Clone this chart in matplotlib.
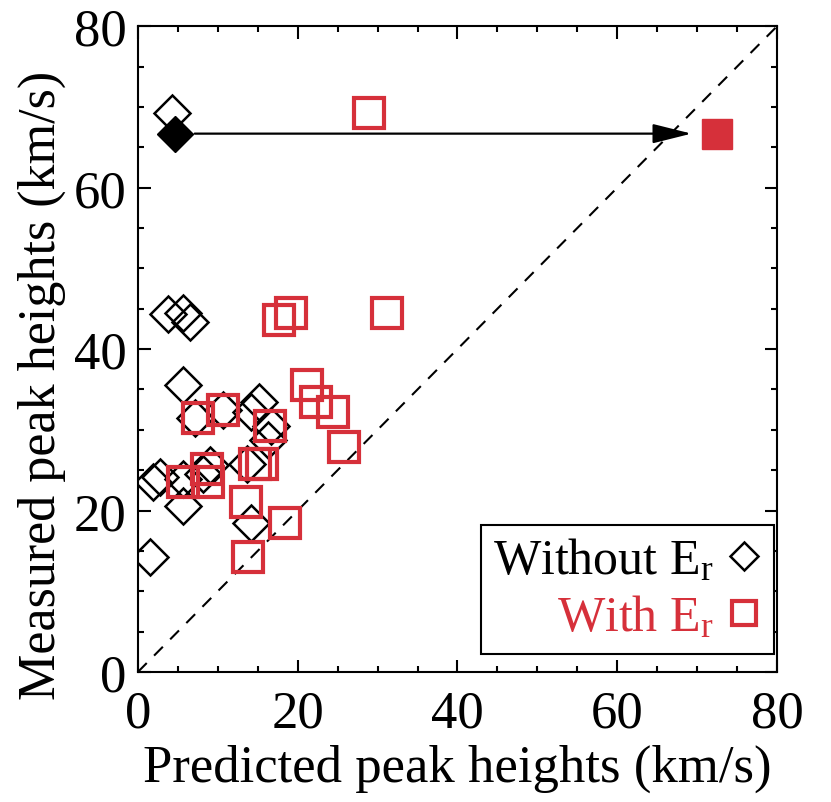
"""
Measured vs predicted peak heights, with and without E_r.
"""

import numpy as np
import matplotlib
matplotlib.use('Agg')
import matplotlib.pyplot as plt

# open diamonds: predictions without E_r
pred_no_er = [4.3, 1.5, 1.9, 2.75, 3.8, 5.7, 6.5, 5.6, 7.1, 10.7,
              15.1, 14.2, 16.7, 16.3, 9.0, 13.6, 5.7, 8.2, 5.7, 14.2]
meas_no_er = [69.3, 14.2, 23.5, 24.1, 44.3, 44.5, 43.3, 35.6, 31.5, 32.4,
              33.4, 32.2, 30.5, 28.7, 25.6, 25.8, 23.9, 24.5, 20.5, 18.4]

# open squares: predictions with E_r
pred_er = [28.9, 17.7, 19.2, 31.2, 21.2, 22.3, 24.4, 25.8, 7.5, 10.6,
           16.5, 8.6, 8.8, 5.7, 14.6, 15.5, 13.5, 18.4, 13.8]
meas_er = [69.3, 43.6, 44.5, 44.5, 35.6, 33.4, 32.2, 27.9, 31.5, 32.4,
           30.5, 25.2, 23.5, 23.5, 25.8, 25.8, 21.0, 18.5, 14.3]

# the highlighted event (filled markers) joined by the arrow
hl_pred_no_er, hl_pred_er, hl_meas = 4.6, 72.5, 66.7
arrow_start, arrow_end = 7.1, 69.3

RED = '#d6303a'

plt.rcParams['font.family'] = ['Liberation Serif', 'DejaVu Serif']
plt.rcParams['mathtext.fontset'] = 'custom'
plt.rcParams['mathtext.rm'] = 'Liberation Serif'
plt.rcParams['mathtext.it'] = 'Liberation Serif:italic'

fig = plt.figure(figsize=(8.31, 8.03), dpi=100)
ax = fig.add_axes([0.166, 0.162, 0.769, 0.804])

# one-to-one line
ax.plot([0, 80], [0, 80], color='k', lw=1.5, ls=(0, (6, 5)))

h1, = ax.plot(pred_no_er, meas_no_er, ls='none', marker='D', ms=18,
              mfc='none', mec='k', mew=1.8,
              label='Without E$_\\mathrm{r}$')
h2, = ax.plot(pred_er, meas_er, ls='none', marker='s', ms=21,
              mfc='none', mec=RED, mew=3,
              label='With E$_\\mathrm{r}$')

ax.plot([hl_pred_no_er], [hl_meas], ls='none', marker='D', ms=18,
        color='k')
ax.plot([hl_pred_er], [hl_meas], ls='none', marker='s', ms=21,
        color=RED)

ax.annotate('', xy=(arrow_end, hl_meas), xytext=(arrow_start, hl_meas),
            arrowprops=dict(arrowstyle='-|>,head_length=1.2,head_width=0.3',
                            color='k', lw=1.6, mutation_scale=20,
                            shrinkA=0, shrinkB=0))

ax.set_xlim(0, 80)
ax.set_ylim(0, 80)
ax.set_xticks([0, 20, 40, 60, 80])
ax.set_yticks([0, 20, 40, 60, 80])
ax.set_xticks(np.arange(0, 81, 5), minor=True)
ax.set_yticks(np.arange(0, 81, 5), minor=True)
ax.tick_params(which='both', direction='in', top=True, right=True,
               width=1.5, labelsize=38)
ax.tick_params(which='major', length=9)
ax.tick_params(which='minor', length=4.5)
ax.tick_params(axis='x', pad=13)
ax.tick_params(axis='y', pad=8)
for s in ax.spines.values():
    s.set_linewidth(1.5)

ax.set_xlabel('Predicted peak heights (km/s)', fontsize=38, labelpad=4)
ax.set_ylabel('Measured peak heights (km/s)', fontsize=37.5, labelpad=6,
              y=0.446)

leg = ax.legend(handles=[h1, h2], loc='lower right',
                bbox_to_anchor=(0.995, 0.028), borderaxespad=0,
                markerfirst=False, fontsize=36, labelcolor=['k', RED],
                markerscale=0.8, handlelength=0.7, handletextpad=0.25,
                fancybox=False, edgecolor='k', framealpha=1,
                borderpad=0.25, labelspacing=0.2)
leg.get_frame().set_linewidth(1.5)

fig.savefig('out.png', dpi=100)
